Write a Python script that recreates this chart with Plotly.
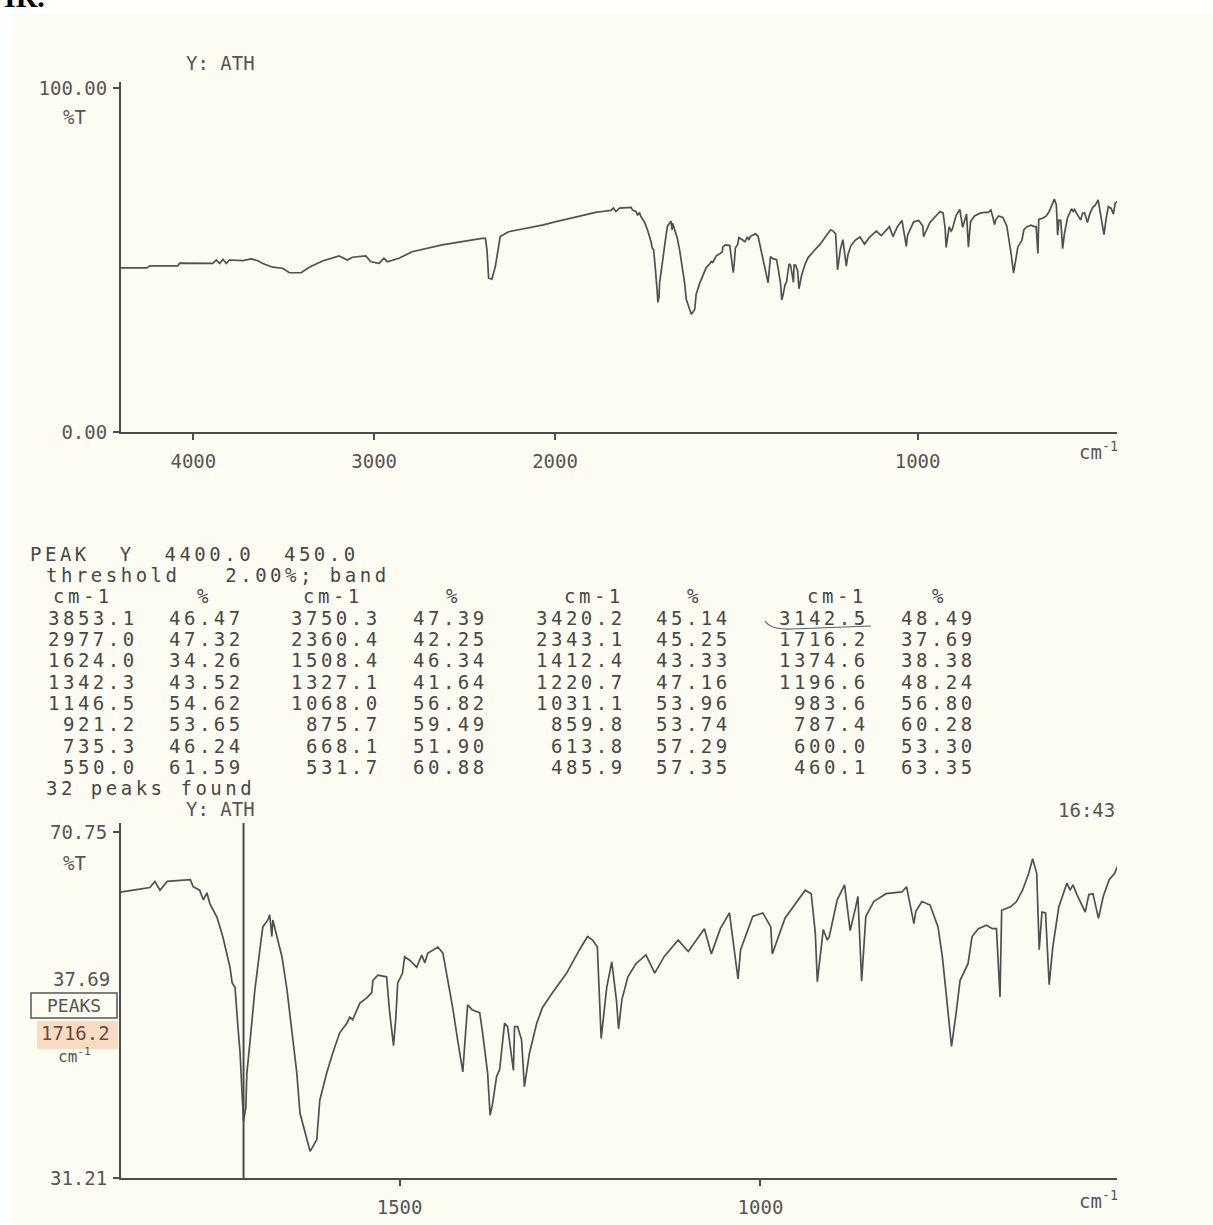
import numpy as np
import plotly.graph_objects as go

W, H = 1213, 1225

# ---------------- data ----------------
wavenumber = [
    4400, 4257, 4240, 4086, 4075, 3899, 3892, 3873, 3855, 3836, 3818, 3800, 3726, 3680, 3644,
    3616, 3561, 3506, 3469, 3404, 3359, 3286, 3194, 3148, 3120, 3046, 3019, 2973, 2946, 2927,
    2863, 2790, 2624, 2404, 2385, 2376, 2367, 2349, 2330, 2303, 2257, 2064, 2000, 1940, 1900,
    1885, 1869, 1846, 1839, 1832, 1822, 1790, 1786, 1777, 1772, 1767, 1763, 1753, 1745, 1739,
    1735, 1732, 1728, 1724, 1721, 1718.5, 1716.2, 1713, 1711.6, 1707, 1700.5, 1693.6, 1689.5,
    1682.5, 1680, 1677, 1675.6, 1670, 1663, 1656, 1649, 1642.4, 1638, 1628.6, 1624, 1614.7,
    1610.6, 1601, 1592.6, 1583, 1573, 1569, 1565, 1555, 1545.5, 1538.6, 1537, 1530, 1518,
    1513.7, 1508.4, 1505.4, 1502.6, 1496, 1493, 1486, 1476.3, 1469.4, 1465, 1461, 1454, 1447,
    1440, 1433, 1426.5, 1419.6, 1412.4, 1410, 1405.7, 1399, 1389, 1385, 1378, 1374.6, 1371,
    1365.6, 1361.4, 1354.5, 1350.4, 1342.3, 1340.7, 1336.5, 1331, 1327.1, 1320, 1310, 1302,
    1288, 1268.7, 1250.7, 1239.6, 1232.7, 1226, 1220.7, 1213, 1206, 1199.5, 1196.6, 1192,
    1183.7, 1172.5, 1158.7, 1146.5, 1133.5, 1114, 1100, 1077.7, 1068.0, 1055.6, 1043, 1031.1,
    1027.5, 1010.7, 996.7, 985.7, 983.6, 966, 938, 929.7, 924, 921.2, 913, 907.5, 904.7, 893.6,
    883.5, 875.7, 868, 865, 859.8, 854, 843, 826, 804, 797.6, 787.4, 784.7, 776.4, 765, 754,
    748, 742.7, 735.3, 729, 723.4, 712.4, 706.8, 698, 687, 678.6, 673, 668.1, 665.8, 653.5,
    645.2, 636.9, 628.4, 622.9, 617.2, 613.8, 610, 605, 600.0, 595, 586.6, 575.4, 571, 567,
    561.5, 550.0, 545, 539.3, 531.7, 525, 516.8, 509.5, 502, 494, 485.9, 480, 474, 466, 460.1,
    455, 450,
]
transmittance = [
    47.7, 47.7, 48.3, 48.3, 49.1, 49.1, 49.0, 50.0, 49.0, 50.2, 49.0, 50.0, 49.8, 50.3, 49.8,
    49.0, 47.9, 47.6, 46.3, 46.3, 47.9, 49.7, 51.2, 50.0, 50.8, 51.2, 49.5, 49.0, 50.5, 49.5,
    50.5, 52.4, 54.4, 56.3, 56.3, 52.9, 44.7, 44.4, 48.1, 56.8, 58.2, 60.2, 61.1, 62.6, 63.6,
    63.9, 64.1, 64.4, 65.1, 64.1, 65.1, 65.3, 64.5, 64.1, 63.0, 63.8, 62.6, 61.0, 58.8, 56.9,
    55.3, 53.5, 53.0, 48.5, 45.5, 41.3, 37.69, 39.3, 43.2, 47.0, 52.7, 57.3, 59.9,
    60.7, 61.3, 58.8, 60.7, 58.8, 56.5, 52.7, 48.1, 43.2, 38.6, 35.6, 34.26, 35.6,
    40.1, 43.2, 45.5, 47.8, 48.9, 49.6, 49.3, 51.2, 51.8, 52.4, 53.8, 54.4, 54.2,
    50.1, 46.34, 49.3, 53.5, 54.6, 56.5, 56.1, 55.3, 56.7, 55.8, 56.9, 57.3, 57.6,
    56.9, 53.8, 50.7, 47.0, 43.33, 46.2, 51.0, 50.4, 50.1, 47.8, 43.2, 38.38, 39.8,
    42.8, 43.6, 48.9, 48.5, 43.52, 48.5, 48.5, 47.0, 41.64, 45.5, 48.9, 50.7,
    52.4, 54.6, 57.3, 58.8, 58.4, 57.6, 47.16, 53.0, 55.9, 51.5, 48.24, 51.6,
    54.2, 55.7, 56.7, 54.62, 56.5, 58.4, 57.1, 59.7, 56.82, 59.7, 61.5, 53.96,
    57.3, 61.1, 61.5, 59.9, 56.80, 60.9, 64.1, 63.7, 59.2, 53.65, 59.6, 58.4, 58.8, 63.0,
    64.7, 59.49, 62.2, 63.4, 53.74, 61.1, 62.8, 63.7, 63.9, 64.5, 60.28, 61.7, 62.8, 62.4, 59.9,
    56.5, 52.3, 46.24, 50.0, 53.8, 55.7, 58.8, 59.7, 60.1, 59.7, 59.7, 51.90, 61.8, 62.2,
    62.8, 64.1, 66.0, 67.7, 66.0, 57.29, 61.6, 61.5, 53.30, 57.6, 62.2, 64.9, 64.1, 64.7,
    63.6, 61.59, 63.6, 63.7, 60.88, 63.4, 65.3, 66.0, 67.5, 63.0, 57.35, 62.0, 65.5, 65.0, 63.35,
    66.5, 67.0,
]

peak_wavenumbers = [
    3853.1, 3750.3, 3420.2, 3142.5,
    2977.0, 2360.4, 2343.1, 1716.2,
    1624.0, 1508.4, 1412.4, 1374.6,
    1342.3, 1327.1, 1220.7, 1196.6,
    1146.5, 1068.0, 1031.1, 983.6,
    921.2, 875.7, 859.8, 787.4,
    735.3, 668.1, 613.8, 600.0,
    550.0, 531.7, 485.9, 460.1,
]
peak_transmittance = [
    46.47, 47.39, 45.14, 48.49,
    47.32, 42.25, 45.25, 37.69,
    34.26, 46.34, 43.33, 38.38,
    43.52, 41.64, 47.16, 48.24,
    54.62, 56.82, 53.96, 56.80,
    53.65, 59.49, 53.74, 60.28,
    46.24, 51.90, 57.29, 53.30,
    61.59, 60.88, 57.35, 63.35,
]

top_ticks_high = [4000, 3000]
top_ticks_low = [2000, 1000]
bottom_ticks = [1500, 1000]
top_y_ticks = [0.0, 100.0]
bottom_y_ticks = [31.21, 70.75]
cursor_wavenumber = 1716.2
cursor_transmittance = 37.69

# ---------------- styling ----------------
MONO = "DejaVu Sans Mono"
TXT = "#555555"
TABLE = "#474747"
AX = "#4d4d4d"
LINE = "#505050"
CREAM = "#fdfcf2"


def fx(px):
    return px / W


def fy(py):
    return 1 - py / H


wn = np.array(wavenumber, dtype=float)
tr = np.array(transmittance, dtype=float)
hi = wn >= 2000
lo = wn <= 2000

fig = go.Figure()
line_style = dict(color=LINE, width=1.7)
fig.add_trace(go.Scatter(x=wn[hi], y=tr[hi], xaxis="x", yaxis="y", mode="lines",
                         line=line_style, showlegend=False, hoverinfo="skip"))
fig.add_trace(go.Scatter(x=wn[lo], y=tr[lo], xaxis="x2", yaxis="y", mode="lines",
                         line=line_style, showlegend=False, hoverinfo="skip"))
fig.add_trace(go.Scatter(x=wn, y=tr, xaxis="x3", yaxis="y3", mode="lines",
                         line=line_style, showlegend=False, hoverinfo="skip"))

axis_common = dict(showline=True, linecolor=AX, linewidth=2, ticks="outside", ticklen=6,
                   tickwidth=1.5, tickcolor=AX, showgrid=False, zeroline=False,
                   automargin=False,
                   tickfont=dict(family=MONO, size=19, color=TXT), fixedrange=True)

# top panel geometry (pixels)
TOP_L, TOP_SPLIT, TOP_R = 121, 555, 1117
TOP_Y0, TOP_Y100, TOP_AXIS_TOP = 432, 88, 82
top_ymax = 100 + (TOP_Y100 - TOP_AXIS_TOP) / ((TOP_Y0 - TOP_Y100) / 100)
# bottom panel geometry (pixels)
BOT_YLO, BOT_YHI, BOT_AXIS_TOP = 1178, 832, 823
bot_span = bottom_y_ticks[1] - bottom_y_ticks[0]
bot_ymax = bottom_y_ticks[1] + (BOT_YHI - BOT_AXIS_TOP) / ((BOT_YLO - BOT_YHI) / bot_span)

fig.update_layout(
    width=W, height=H, margin=dict(l=0, r=0, t=0, b=0, autoexpand=False),
    paper_bgcolor=CREAM, plot_bgcolor="rgba(0,0,0,0)",
    font=dict(family=MONO, color=TXT),
    xaxis=dict(axis_common, domain=[fx(TOP_L), fx(TOP_SPLIT)], range=[4400, 2000],
               tickvals=top_ticks_high, anchor="y", ticklabelstandoff=5),
    xaxis2=dict(axis_common, domain=[fx(TOP_SPLIT), fx(TOP_R)], range=[2000, 450],
                tickvals=top_ticks_low, anchor="y", ticklabelstandoff=5),
    yaxis=dict(axis_common, domain=[fy(TOP_Y0), fy(TOP_AXIS_TOP)], range=[0, top_ymax],
               tickvals=top_y_ticks, ticktext=[f"{v:.2f}" for v in top_y_ticks],
               anchor="x", ticklabelstandoff=2),
    xaxis3=dict(axis_common, domain=[fx(TOP_L), fx(TOP_R)], range=[1886, 506],
                tickvals=bottom_ticks, anchor="y3", ticklabelstandoff=5),
    yaxis3=dict(axis_common, domain=[fy(BOT_YLO), fy(BOT_AXIS_TOP)],
                range=[bottom_y_ticks[0], bot_ymax], tickvals=bottom_y_ticks,
                ticktext=[f"{v:.2f}" for v in bottom_y_ticks], anchor="x3",
                ticklabelstandoff=2),
)

shapes = [
    # white margins of the scan
    dict(type="rect", xref="paper", yref="paper", x0=0, x1=1, y0=fy(14), y1=1,
         fillcolor="white", line=dict(width=0), layer="below"),
    dict(type="rect", xref="paper", yref="paper", x0=0, x1=fx(12), y0=0, y1=1,
         fillcolor="white", line=dict(width=0), layer="below"),
    # highlighter mark on the cursor readout
    dict(type="rect", xref="paper", yref="paper", x0=fx(37), x1=fx(118), y0=fy(1049),
         y1=fy(1021), fillcolor="rgba(244,168,118,0.38)", line=dict(width=0), layer="below"),
    # PEAKS box
    dict(type="rect", xref="paper", yref="paper", x0=fx(31), x1=fx(117), y0=fy(1018),
         y1=fy(993), line=dict(color=TXT, width=1.5), fillcolor="rgba(0,0,0,0)"),
    # cursor line
    dict(type="line", xref="x3", x0=cursor_wavenumber, x1=cursor_wavenumber,
         yref="y3 domain", y0=0, y1=1, line=dict(color=AX, width=2)),
    # handwritten underline
    dict(type="path", xref="paper", yref="paper",
         path=(f"M {fx(765)} {fy(621)} Q {fx(771)} {fy(630)} {fx(792)} {fy(629)} "
               f"L {fx(871)} {fy(626)}"),
         line=dict(color="#5b5b6b", width=1.2)),
]
fig.update_layout(shapes=shapes)

ann = []


def add_text(text, x, y, xanchor="center", size=19, family=MONO, color=TXT, spacing=None,
             yanchor="middle"):
    if spacing:
        text = f'<span style="letter-spacing:{spacing}px">{text}</span>'
    ann.append(dict(text=text, x=fx(x), y=fy(y), xref="paper", yref="paper",
                    xanchor=xanchor, yanchor=yanchor, showarrow=False,
                    font=dict(family=family, size=size, color=color)))


add_text("<b>IR.</b>", 2, 15, xanchor="left", size=30, family="Liberation Serif",
         color="black", yanchor="bottom")
add_text("Y: ATH", 221, 63)
add_text("%T", 74, 117)
add_text("cm<sup>-1</sup>", 1098, 451)
add_text("cm<sup>-1</sup>", 1098, 1200)

# peak table
TS = 3.5
TF = 19
add_text("PEAK  Y  4400.0  450.0", 28, 554, xanchor="left", size=TF, spacing=TS, color=TABLE)
add_text("threshold   2.00%; band", 44, 575, xanchor="left", size=TF, spacing=TS, color=TABLE)
hdr_cm = [83, 333, 594, 837]
hdr_pc = [203, 452, 693, 938]
for c in range(4):
    add_text("cm-1", hdr_cm[c], 596, size=TF, spacing=TS, color=TABLE)
    add_text("%", hdr_pc[c], 596, size=TF, color=TABLE)
col_wn = [140, 383, 628, 871]
col_pc = [246, 490, 733, 978]
for r in range(8):
    yy = 617.5 + 21.35 * r
    for c in range(4):
        i = r * 4 + c
        add_text(f"{peak_wavenumbers[i]:.1f}", col_wn[c], yy, xanchor="right", size=TF,
                 spacing=TS, color=TABLE)
        add_text(f"{peak_transmittance[i]:.2f}", col_pc[c], yy, xanchor="right", size=TF,
                 spacing=TS, color=TABLE)
add_text(f"{len(peak_wavenumbers)} peaks found", 44, 788, xanchor="left", size=TF, spacing=TS,
         color=TABLE)
add_text("Y: ATH", 221, 809)
add_text("16:43", 1117, 810, xanchor="right")

# cursor readout
add_text("%T", 74, 863)
add_text(f"{cursor_transmittance:.2f}", 112, 979, xanchor="right")
add_text("PEAKS", 74, 1005, size=18)
add_text(f"{cursor_wavenumber:.1f}", 112, 1033, xanchor="right", color="#6a4a40")
add_text("cm<sup>-1</sup>", 74, 1055, size=16)

fig.update_layout(annotations=ann)
fig.write_html("out.html", config={"displayModeBar": False},
               post_script="document.body.style.margin='0px';")
